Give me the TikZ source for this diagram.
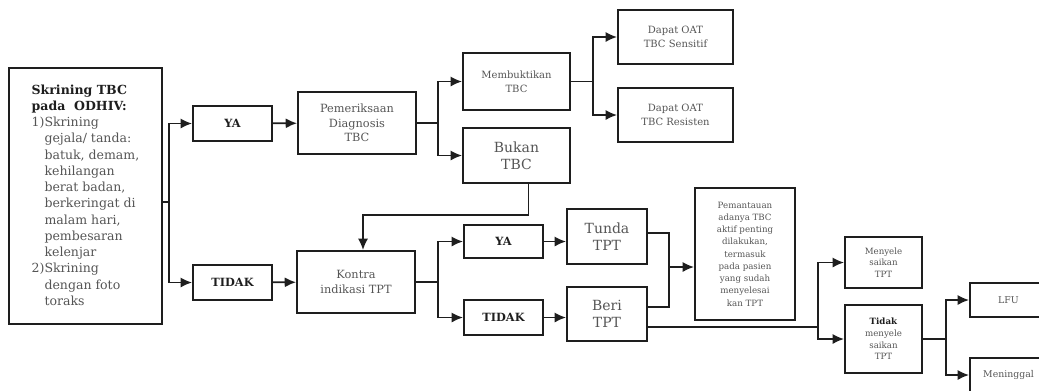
\documentclass[tikz,border=0pt]{standalone}
\usepackage{fontspec}
\setmainfont{DejaVu Serif}
\usetikzlibrary{arrows.meta, positioning, calc}
\definecolor{textgray}{HTML}{555555}
\definecolor{linegray}{HTML}{1E1E1E}
\newcommand\fsz[2]{\fontsize{#1}{#2}\selectfont}

\begin{document}
\begin{tikzpicture}[
    x=0.75pt, y=-0.75pt,
    >={Latex[length=8.5pt, width=7.5pt]},
    box/.style={draw=linegray, line width=1.4pt, inner sep=0pt, align=center, text=textgray},
    sz/.style 2 args={minimum width=#1*0.75pt, minimum height=#2*0.75pt},
    answer/.style={box, font=\fsz{8.5}{10}\bfseries, text=linegray},
    arr/.style={->, line width=1.3pt, draw=linegray},
    ln/.style={line width=1.3pt, draw=linegray},
]
\clip (0,0) rectangle (1039,390);

% Screening
\node[box, sz={153}{256}, align=left, font=\fsz{9.4}{12.2}] (scr) at (85.5,196) {%
  \textcolor{linegray}{\textbf{Skrining TBC}}\\
  \textcolor{linegray}{\textbf{pada\ \ ODHIV:}}\\
  1)Skrining\\
  \phantom{1)}gejala/ tanda:\\
  \phantom{1)}batuk, demam,\\
  \phantom{1)}kehilangan\\
  \phantom{1)}berat badan,\\
  \phantom{1)}berkeringat di\\
  \phantom{1)}malam hari,\\
  \phantom{1)}pembesaran\\
  \phantom{1)}kelenjar\\
  2)Skrining\\
  \phantom{2)}dengan foto\\
  \phantom{2)}toraks};

% First answers
\node[answer, sz={79}{35}] (ya1) at (232.5,123.5) {YA};
\node[answer, sz={79}{35}] (tidak1) at (232.5,282.5) {TIDAK};

% Diagnosis branch
\node[box, sz={118}{62}, font=\fsz{8.5}{11}] (pem) at (357,123) {Pemeriksaan\\Diagnosis\\TBC};
\node[box, sz={107}{57}, font=\fsz{7.5}{10.5}] (bukt) at (516.5,81.5) {Membuktikan\\TBC};
\node[box, sz={107}{55}, font=\fsz{10.5}{12.5}] (bukan) at (516.5,155.5) {Bukan\\TBC};
\node[box, sz={115}{54}, font=\fsz{7.5}{10.5}] (sens) at (675.5,37) {Dapat OAT\\TBC Sensitif};
\node[box, sz={115}{54}, font=\fsz{7.5}{10.5}] (resis) at (675.5,115) {Dapat OAT\\TBC Resisten};

% TPT branch
\node[box, sz={118}{62}, font=\fsz{8.5}{11}] (kontra) at (356,282) {Kontra\\indikasi TPT};
\node[answer, sz={79}{33}] (ya2) at (503.5,241.5) {YA};
\node[answer, sz={79}{35}] (tidak2) at (503.5,317.5) {TIDAK};
\node[box, sz={80}{55}, font=\fsz{10.5}{12.5}] (tunda) at (607,236.5) {Tunda\\TPT};
\node[box, sz={80}{54}, font=\fsz{10.5}{12.5}] (beri) at (607,314) {Beri\\TPT};
\node[box, sz={100}{132}, font=\fsz{6.5}{9.2}] (pant) at (745,254) {Pemantauan\\adanya TBC\\aktif penting\\dilakukan,\\termasuk\\pada pasien\\yang sudah\\menyelesai\\kan TPT};

% Outcomes
\node[box, sz={77}{51}, font=\fsz{6.5}{8.8}] (selesai) at (883.5,262.5) {Menyele\\saikan\\TPT};
\node[box, sz={77}{68}, font=\fsz{6.5}{8.8}] (tidaksel) at (883.5,339) {\textcolor{linegray}{\textbf{Tidak}}\\menyele\\saikan\\TPT};
\node[box, sz={77}{34}, font=\fsz{7}{9}] (lfu) at (1008.5,300) {LFU};
\node[box, sz={77}{34}, font=\fsz{7}{9}] (mening) at (1008.5,375) {Meninggal};

% Screening -> YA / TIDAK
\draw[ln] ($(scr.east)+(0,6)$) -- ++(6,0) coordinate (s1);
\draw[arr] (s1) |- (ya1);
\draw[arr] (s1) |- (tidak1);

% YA -> diagnosis
\draw[arr] (ya1) -- (pem);
\draw[ln] (pem.east) -- ++(21,0) coordinate (s2);
\draw[arr] (s2) |- (bukt);
\draw[arr] (s2) |- (bukan);
\draw[ln] (bukt.east) -- ++(22,0) coordinate (s3);
\draw[arr] (s3) |- (sens);
\draw[arr] (s3) |- (resis);

% Bukan TBC back into Kontra indikasi
\draw[arr] ($(bukan.south)+(12,0)$) -- ++(0,31) -| ($(kontra.north)+(7,0)$);

% TIDAK -> Kontra indikasi -> YA / TIDAK
\draw[arr] (tidak1) -- (kontra);
\draw[ln] (kontra.east) -- ++(22,0) coordinate (s4);
\draw[arr] (s4) |- (ya2);
\draw[arr] (s4) |- (tidak2);
\draw[arr] (ya2) -- (ya2 -| tunda.west);
\draw[arr] (tidak2) -- (tidak2 -| beri.west);

% Tunda / Beri -> Pemantauan
\coordinate (m1) at (669,267);
\draw[ln] ($(tunda.east)+(0,-3.5)$) -| (m1);
\draw[ln] ($(beri.east)+(0,-7)$) -| (m1);
\draw[arr] (m1) -- (m1 -| pant.west);

% Beri -> outcomes
\coordinate (s5) at (818,327);
\draw[ln] ($(beri.east)+(0,13)$) -- (s5);
\draw[arr] (s5) |- (selesai);
\draw[arr] (s5) |- (tidaksel);
\draw[ln] (tidaksel.east) -- ++(23,0) coordinate (s6);
\draw[arr] (s6) |- (lfu);
\draw[arr] (s6) |- (mening);

\end{tikzpicture}
\end{document}
